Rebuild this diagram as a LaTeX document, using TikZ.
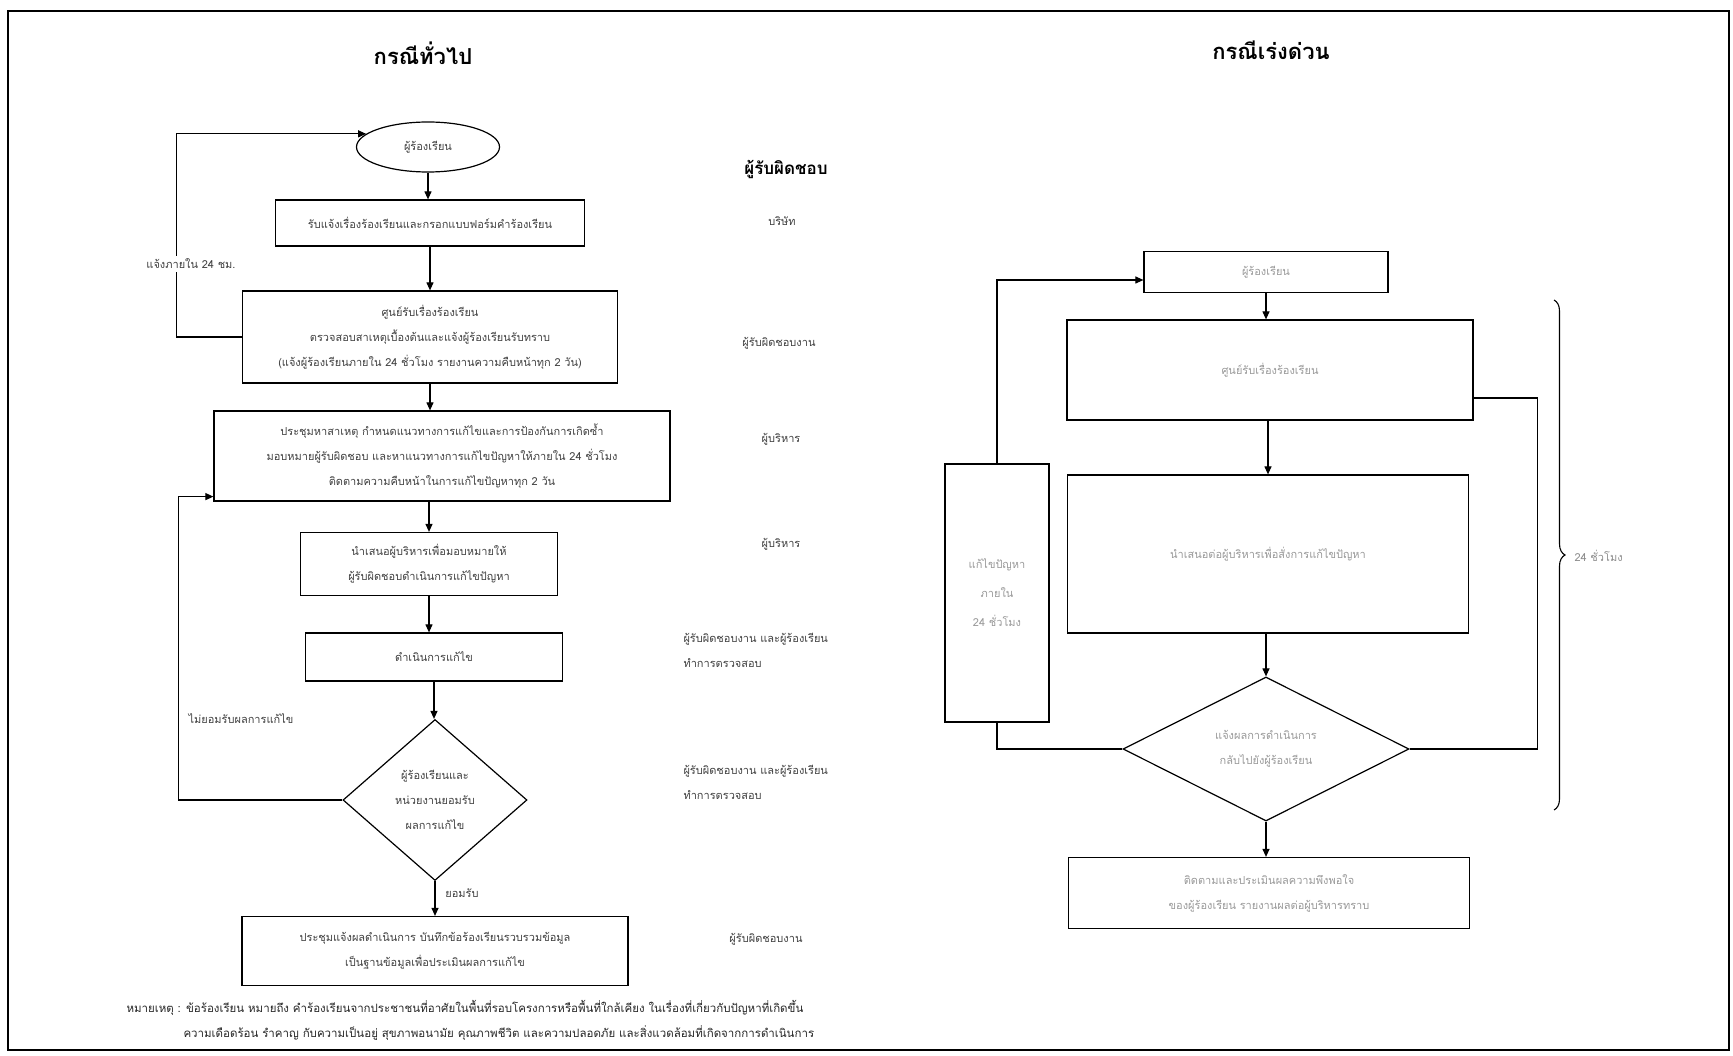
\documentclass[tikz,border=0pt]{standalone}
\usepackage{fontspec}
\newfontfamily\thai[Script=Thai]{Loma}
\usetikzlibrary{shapes.geometric,arrows.meta,decorations.pathreplacing,calc}
\begin{document}
\begin{tikzpicture}[x=1pt,y=-1pt,
  font=\thai\fontsize{11}{25}\selectfont,
  box/.style={draw, line width=1.2pt, align=center, text=black!75, inner sep=2pt},
  rbox/.style={box, text=black!40},
  arr/.style={-{Triangle[length=8pt,width=7pt]}, line width=1.1pt},
  ln/.style={line width=1.1pt},
  lab/.style={text=black!75, align=left},
  note/.style={lab, anchor=west, font=\thai\fontsize{11.5}{13}\selectfont, text=black!85},
  title/.style={font=\thai\bfseries\fontsize{22}{26}\selectfont},
]
\useasboundingbox (0,0) rectangle (1733,1056);
\draw[line width=1.2pt] (8,11) rectangle (1729,1050);

% titles
\node[title] (t1) at (423,53) {กรณีทั่วไป};
\node[title] (t2) at (1271,50) {กรณีเร่งด่วน};

% left flow
\node[draw, ellipse, line width=1.2pt, minimum width=143pt, minimum height=50pt, text=black!75] (ell) at (428,147) {ผู้ร้องเรียน};
\node[box, minimum width=309pt, minimum height=46pt] (b1) at (430,223) {รับแจ้งเรื่องร้องเรียนและกรอกแบบฟอร์มคำร้องเรียน};
\node[box, minimum width=375pt, minimum height=92pt] (b2) at (430,337) {ศูนย์รับเรื่องร้องเรียน\\ตรวจสอบสาเหตุเบื้องต้นและแจ้งผู้ร้องเรียนรับทราบ\\(แจ้งผู้ร้องเรียนภายใน 24 ชั่วโมง รายงานความคืบหน้าทุก 2 วัน)};
\node[box, minimum width=456pt, minimum height=90pt] (b3) at (442,456) {ประชุมหาสาเหตุ กำหนดแนวทางการแก้ไขและการป้องกันการเกิดซ้ำ\\มอบหมายผู้รับผิดชอบ และหาแนวทางการแก้ไขปัญหาให้ภายใน 24 ชั่วโมง\\ติดตามความคืบหน้าในการแก้ไขปัญหาทุก 2 วัน};
\node[box, minimum width=257pt, minimum height=63pt] (b4) at (429,564) {นำเสนอผู้บริหารเพื่อมอบหมายให้\\ผู้รับผิดชอบดำเนินการแก้ไขปัญหา};
\node[box, minimum width=257pt, minimum height=48pt] (b5) at (434,657) {ดำเนินการแก้ไข};
\node[box, diamond, inner sep=0pt, minimum width=184pt, minimum height=161pt] (dia) at (435,800) {ผู้ร้องเรียนและ\\หน่วยงานยอมรับ\\ผลการแก้ไข};
\node[box, minimum width=386pt, minimum height=69pt] (b6) at (435,951) {ประชุมแจ้งผลดำเนินการ บันทึกข้อร้องเรียนรวบรวมข้อมูล\\เป็นฐานข้อมูลเพื่อประเมินผลการแก้ไข};

\draw[arr] (ell.south) -- (ell.south |- b1.north);
\draw[arr] (b1.south) -- (b1.south |- b2.north);
\draw[arr] (b2.south) -- (b2.south |- b3.north);
\draw[arr] (b4.north |- b3.south) -- (b4.north);
\draw[arr] (b4.south) -- (b4.south |- b5.north);
\draw[arr] (b5.south) -- (b5.south |- dia.north);
\draw[arr] (dia.south) -- (dia.south |- b6.north);
\draw[arr] (b2.west) -- ++(-65,0) |- (ell.168);
\draw[arr] (dia.west) -- ++(-164,0) |- ([yshift=5pt]b3.south west);

\node[lab, fill=white, inner sep=3pt] (l1) at (191,264) {แจ้งภายใน 24 ชม.};
\node[lab] (l2) at (241,719) {ไม่ยอมรับผลการแก้ไข};
\node[lab] (l3) at (462,893) {ยอมรับ};

% responsibility column
\node[font=\thai\bfseries\fontsize{17}{20}\selectfont] (rh) at (786,169) {ผู้รับผิดชอบ};
\node[lab] (p1) at (782,221) {บริษัท};
\node[lab] (p2) at (779,343) {ผู้รับผิดชอบงาน};
\node[lab] (p3) at (781,439) {ผู้บริหาร};
\node[lab] (p4) at (781,544) {ผู้บริหาร};
\node[lab, anchor=west] (p5) at (680,650) {ผู้รับผิดชอบงาน และผู้ร้องเรียน\\ทำการตรวจสอบ};
\node[lab, anchor=west] (p6) at (680,782) {ผู้รับผิดชอบงาน และผู้ร้องเรียน\\ทำการตรวจสอบ};
\node[lab] (p7) at (766,939) {ผู้รับผิดชอบงาน};

% footnote
\node[note] (fn1) at (123,1008) {หมายเหตุ : ข้อร้องเรียน หมายถึง คำร้องเรียนจากประชาชนที่อาศัยในพื้นที่รอบโครงการหรือพื้นที่ใกล้เคียง ในเรื่องที่เกี่ยวกับปัญหาที่เกิดขึ้น};
\node[note] (fn2) at (180,1033) {ความเดือดร้อน รำคาญ กับความเป็นอยู่ สุขภาพอนามัย คุณภาพชีวิต และความปลอดภัย และสิ่งแวดล้อมที่เกิดจากการดำเนินการ};

% right flow
\node[rbox, minimum width=244pt, minimum height=41pt] (r1) at (1266,272) {ผู้ร้องเรียน};
\node[rbox, minimum width=406pt, minimum height=100pt] (r2) at (1270,370) {ศูนย์รับเรื่องร้องเรียน};
\node[rbox, minimum width=401pt, minimum height=158pt] (r3) at (1268,554) {นำเสนอต่อผู้บริหารเพื่อสั่งการแก้ไขปัญหา};
\node[rbox, diamond, inner sep=0pt, minimum width=286pt, minimum height=144pt] (rd) at (1266,749) {แจ้งผลการดำเนินการ\\กลับไปยังผู้ร้องเรียน};
\node[rbox, minimum width=401pt, minimum height=71pt] (r4) at (1269,893) {ติดตามและประเมินผลความพึงพอใจ\\ของผู้ร้องเรียน รายงานผลต่อผู้บริหารทราบ};
\node[rbox, minimum width=104pt, minimum height=258pt, font=\thai\fontsize{11}{29}\selectfont] (tall) at (997,593) {แก้ไขปัญหา\\ภายใน\\24 ชั่วโมง};

\draw[arr] (r1.south) -- (r1.south |- r2.north);
\draw[arr] (r3.north |- r2.south) -- (r3.north);
\draw[arr] (rd.north |- r3.south) -- (rd.north);
\draw[arr] (rd.south) -- (rd.south |- r4.north);
\draw[ln] (rd.west) -| (tall.south);
\draw[arr] (tall.north) |- ([yshift=-8pt]r1.west);
\draw[ln] (rd.east) -- ++(128,0) |- ([yshift=-28pt]r2.east);

\coordinate (bt) at (1554,300);
\coordinate (bb) at (1554,810);
\draw[decorate, decoration={brace, amplitude=11pt}, line width=1.1pt] (bt) -- (bb);
\node[text=black!45, anchor=west] (b24) at (1571,556) {24 ชั่วโมง};
\end{tikzpicture}
\end{document}
